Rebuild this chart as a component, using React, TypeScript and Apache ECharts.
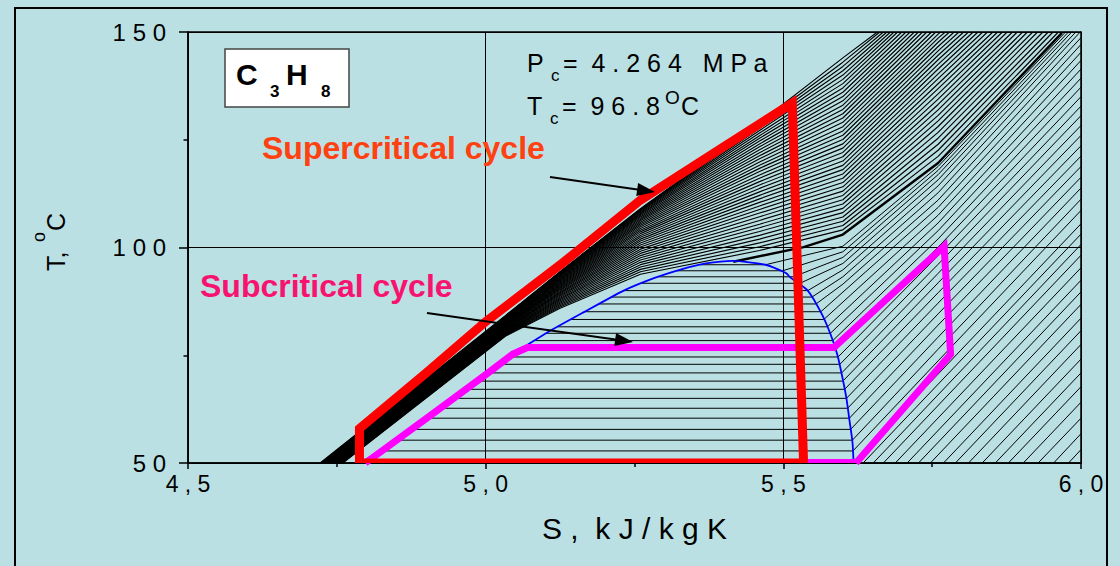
import React, { useEffect, useRef } from "react";
import * as echarts from "echarts";

const FONT = "'Liberation Sans', Arial, Helvetica, sans-serif";

// ---- axes ----
const xMin = 4.5;
const xMax = 6.0;
const xStep = 0.5;
const yMin = 50;
const yMax = 150;
const yStep = 50;

// ---- saturation dome (S, T) ----
const domeS = [4.790, 4.845, 4.898, 4.950, 4.996, 5.044, 5.100, 5.165, 5.232, 5.285, 5.330, 5.370, 5.415,
  5.470, 5.490, 5.505, 5.512, 5.541, 5.563, 5.579, 5.591, 5.599, 5.606, 5.611, 5.616, 5.618];
const domeT = [50, 55, 60, 65, 70, 75, 80, 85, 90, 93, 95, 96.3, 96.9,
  96.0, 95.0, 94.0, 93.0, 90, 85, 80, 75, 70, 65, 60, 55, 50];

// ---- subcritical isobars: saturation temperature, liquid/vapour entropy, vapour branch ----
const subT = [52.8, 55.3, 57.8, 60.4, 62.7, 65.0, 67.1, 69.0, 70.9, 72.9, 74.6, 76.6, 78.4, 80.1, 81.6, 83.3, 85.1, 86.9, 88.5, 90.0, 91.7, 93.2, 94.6, 96.0];
const subSL = [4.821, 4.848, 4.875, 4.902, 4.926, 4.950, 4.969, 4.987, 5.005, 5.024, 5.040, 5.062, 5.082, 5.101, 5.121, 5.143, 5.166, 5.190, 5.212, 5.232, 5.262, 5.290, 5.321, 5.361];
const subSV = [5.617, 5.616, 5.613, 5.611, 5.608, 5.606, 5.603, 5.600, 5.598, 5.595, 5.592, 5.587, 5.583, 5.579, 5.574, 5.568, 5.563, 5.555, 5.548, 5.541, 5.528, 5.517, 5.499, 5.470];
const subColS = [5.60, 5.76, 6.0];
const subTa: (number | null)[] = [null, null, null, null, null, null, null, null, null, null, null, null, null, null, null, null, null, 91.5, 93.2, 94.8, 96.3, 97.7, 99.0, 100.3];
const subTb = [73.7, 76.4, 79.2, 82.0, 84.6, 87.1, 89.5, 91.8, 94.0, 96.1, 98.1, 100.1, 102.0, 103.9, 105.7, 107.5, 109.3, 111.0, 112.7, 114.3, 115.7, 116.9, 117.9, 118.8];
const subT6 = [108.6, 111.2, 113.8, 116.3, 118.8, 121.2, 123.6, 126.0, 128.3, 130.6, 132.8, 135.0, 137.2, 139.3, 141.4, 143.4, 145.3, 147.1, 148.7, 150.2, 151.3, 152.3, 153.1, 153.8];

// ---- low-pressure vapour isobars (start on the 50 °C line, end on S = 6.0) ----
const lowS0 = [5.618, 5.634, 5.651, 5.668, 5.688, 5.708, 5.727, 5.747, 5.769, 5.789, 5.811, 5.834, 5.856, 5.878, 5.903, 5.928, 5.954, 5.979];
const lowT6 = [105.5, 103.1, 100.7, 98.2, 95.3, 92.4, 89.7, 86.8, 83.6, 80.7, 77.5, 74.1, 70.9, 67.7, 64.1, 60.4, 56.8, 53.1];

// ---- supercritical isobars (start at T = 50, sampled at fixed S columns, end on T = 150) ----
const scColS = [5.033, 5.125, 5.26, 5.46, 5.60, 5.76];
const scS0 = [4.722, 4.723, 4.724, 4.725, 4.726, 4.727, 4.728, 4.729, 4.730, 4.731, 4.732, 4.732, 4.733, 4.734, 4.735, 4.736, 4.737, 4.738, 4.739, 4.740, 4.741, 4.742, 4.743, 4.744, 4.745, 4.746, 4.747, 4.748, 4.749, 4.750, 4.751, 4.751, 4.752, 4.753, 4.754, 4.755, 4.756, 4.757, 4.758, 4.759, 4.760];
const scT1 = [84.20, 84.08, 83.96, 83.84, 83.72, 83.60, 83.48, 83.36, 83.24, 83.12, 83.00, 82.88, 82.76, 82.64, 82.52, 82.40, 82.28, 82.16, 82.04, 81.92, 81.80, 81.68, 81.56, 81.44, 81.32, 81.20, 81.08, 80.96, 80.84, 80.72, 80.60, 80.48, 80.36, 80.24, 80.12, 80.00, 79.88, 79.76, 79.64, 79.52, 79.40];
const scT2 = [94.40, 94.35, 94.27, 94.17, 94.06, 93.94, 93.80, 93.66, 93.51, 93.35, 93.18, 93.01, 92.83, 92.64, 92.45, 92.25, 92.04, 91.84, 91.62, 91.40, 91.18, 90.95, 90.72, 90.48, 90.24, 90.00, 89.75, 89.50, 89.25, 88.99, 88.72, 88.45, 88.18, 87.91, 87.63, 87.36, 87.06, 86.78, 86.49, 86.19, 85.90];
const scT3 = [109.00, 108.94, 108.83, 108.69, 108.52, 108.33, 108.12, 107.89, 107.64, 107.38, 107.10, 106.81, 106.50, 106.18, 105.85, 105.51, 105.15, 104.79, 104.41, 104.02, 103.63, 103.22, 102.80, 102.37, 101.94, 101.49, 101.04, 100.57, 100.10, 99.62, 99.13, 98.63, 98.12, 97.61, 97.09, 96.56, 96.02, 95.48, 94.93, 94.37, 93.80];
const scT5 = [129.00, 128.65, 128.18, 127.67, 127.13, 126.55, 125.95, 125.34, 124.69, 124.04, 123.37, 122.69, 122.00, 121.29, 120.57, 119.85, 119.10, 118.36, 117.62, 116.84, 116.08, 115.29, 114.51, 113.71, 112.91, 112.10, 111.29, 110.47, 109.64, 108.81, 107.99, 107.13, 106.28, 105.40, 104.59, 103.72, 102.82, 101.95, 101.06, 100.18, 99.30];
const scT6 = [144.00, 143.00, 142.01, 141.01, 140.01, 139.01, 138.02, 137.02, 136.02, 135.02, 134.03, 133.03, 132.03, 131.03, 130.04, 129.04, 128.04, 127.04, 126.05, 125.05, 124.05, 123.05, 122.06, 121.06, 120.06, 119.06, 118.07, 117.07, 116.07, 115.07, 114.08, 113.08, 112.08, 111.08, 110.09, 109.09, 108.09, 107.09, 106.10, 105.10, 104.10];
const scT7: (number | null)[] = [null, null, null, null, null, null, null, null, null, null, null, null, null, null, null, null,
  149.50, 148.58, 147.63, 146.63, 145.63, 144.61, 143.57, 142.49, 141.42, 140.30, 139.18, 138.00, 136.85, 135.65, 134.44, 133.19, 131.92, 130.66, 129.38, 128.07, 126.71, 125.36, 123.96, 122.56, 121.15];
const scTopS = [5.658, 5.662, 5.668, 5.674, 5.680, 5.686, 5.692, 5.699, 5.706, 5.713, 5.720, 5.727, 5.734, 5.741, 5.749, 5.756, 5.764, 5.772, 5.779, 5.787, 5.795, 5.803, 5.811, 5.819, 5.827, 5.835, 5.843, 5.852, 5.860, 5.868, 5.876, 5.885, 5.893, 5.902, 5.910, 5.919, 5.927, 5.936, 5.945, 5.953, 5.962];

// ---- critical isobar (bold) ----
const critS = [5.416, 5.534, 5.60, 5.76, 5.968];
const critT = [96.7, 100.1, 103.0, 119.6, 149.8];

// ---- cycles ----
const redS = [4.788, 4.788, 4.90, 5.00, 5.13, 5.26, 5.39, 5.515, 5.534];
const redT = [50, 58.0, 70.9, 82.8, 96.5, 111.0, 122.5, 133.5, 50];
const redBaseS = [4.788, 5.534];
const pinkS = [4.798, 4.912, 5.003, 5.045, 5.07, 5.585, 5.770, 5.781, 5.622];
const pinkT = [50, 61.5, 70.8, 75.2, 76.8, 76.8, 100.3, 75.2, 50];
const pinkBaseS = [4.798, 5.622];

const zip = (s: number[], t: number[]) => s.map((v, i) => [v, t[i]]);

function lineS(data: number[][], color: string, width: number, z: number, smooth: number | boolean = false, join = "bevel") {
  return {
    type: "line",
    data,
    symbol: "none",
    showSymbol: false,
    silent: true,
    smooth,
    clip: true,
    z,
    lineStyle: { color, width, join, cap: "butt" },
    emphasis: { disabled: true },
  };
}

function buildSeries() {
  const series: any[] = [];
  const hatch = "#000";
  lowS0.forEach((s, i) => series.push(lineS([[s, 50], [subColS[2], lowT6[i]]], hatch, 1, 2)));
  subT.forEach((t, j) => {
    series.push(lineS([[subSL[j], t], [subSV[j], t]], hatch, 1, 2));
    const pts: number[][] = [[subSV[j], t]];
    const ta = subTa[j];
    if (ta !== null) pts.push([subColS[0], ta]);
    pts.push([subColS[1], subTb[j]], [subColS[2], subT6[j]]);
    series.push(lineS(pts, hatch, 1, 2));
  });
  scS0.forEach((s0, i) => {
    const pts: number[][] = [
      [s0, 50],
      [scColS[0], scT1[i]],
      [scColS[1], scT2[i]],
      [scColS[2], scT3[i]],
      [scColS[3], scT5[i]],
      [scColS[4], scT6[i]],
    ];
    const t7 = scT7[i];
    if (t7 !== null) pts.push([scColS[5], t7]);
    pts.push([scTopS[i], 150]);
    series.push(lineS(pts, hatch, 1.15, 2));
  });
  series.push(lineS(zip(critS, critT), "#000", 2.4, 3));
  series.push(lineS(zip(domeS, domeT), "#0000ff", 1.8, 3, 0.2));
  series.push(lineS(zip(pinkS, pinkT), "#ff00ff", 7, 4, false, "miter"));
  series.push(lineS([[pinkBaseS[0], 50.45], [pinkBaseS[1], 50.45]], "#ff00ff", 4, 4));
  series.push(lineS(zip(redS, redT), "#ff0000", 9, 5, false, "miter"));
  series.push(lineS([[redBaseS[0], 50.5], [redBaseS[1], 50.5]], "#ff0000", 4.5, 5));
  return series;
}

function txt(text: string, x: number, y: number, size: number, opts: any = {}) {
  return {
    type: "text",
    x,
    y,
    z: 10,
    silent: true,
    style: {
      text,
      fill: opts.fill || "#000",
      fontSize: size,
      fontWeight: opts.weight || "normal",
      fontFamily: FONT,
      align: opts.align || "left",
      verticalAlign: "middle",
    },
  };
}

function arrow(x1: number, y1: number, x2: number, y2: number) {
  const dx = x2 - x1;
  const dy = y2 - y1;
  const len = Math.sqrt(dx * dx + dy * dy);
  const ux = dx / len;
  const uy = dy / len;
  const hl = 18;
  const hw = 6.5;
  const bx = x2 - ux * hl;
  const by = y2 - uy * hl;
  return [
    { type: "line", z: 10, silent: true, shape: { x1, y1, x2: bx + ux * 2, y2: by + uy * 2 }, style: { stroke: "#000", lineWidth: 2 } },
    {
      type: "polygon",
      z: 10,
      silent: true,
      shape: { points: [[x2, y2], [bx - uy * hw, by + ux * hw], [bx + uy * hw, by - ux * hw]] },
      style: { fill: "#000" },
    },
  ];
}

function buildOption() {
  const spaced = (s: string) => s.split("").join(" ");
  return {
    animation: false,
    backgroundColor: "transparent",
    textStyle: { fontFamily: FONT },
    grid: { left: 188, right: 39, top: 32, bottom: 103, show: true, borderColor: "#000", borderWidth: 1.5, backgroundColor: "transparent" },
    xAxis: {
      type: "value",
      min: xMin,
      max: xMax,
      interval: xStep,
      name: "S ,  k J / k g K",
      nameLocation: "middle",
      nameGap: 50,
      nameTextStyle: { fontSize: 30, color: "#000", fontFamily: FONT },
      axisLine: { show: true, lineStyle: { color: "#000", width: 1.5 } },
      axisTick: { show: true, length: 6, lineStyle: { color: "#000", width: 1.5 } },
      minorTick: { show: true, splitNumber: 2, length: 4, lineStyle: { color: "#000", width: 1.5 } },
      splitLine: { show: true, lineStyle: { color: "#000", width: 1 } },
      axisLabel: { fontSize: 23, color: "#000", margin: 9, fontFamily: FONT, formatter: (v: number) => spaced(v.toFixed(1).replace(".", ",")) },
    },
    yAxis: {
      type: "value",
      min: yMin,
      max: yMax,
      interval: yStep,
      axisLine: { show: true, lineStyle: { color: "#000", width: 1.5 } },
      axisTick: { show: true, length: 9, lineStyle: { color: "#000", width: 1.5 } },
      minorTick: { show: true, splitNumber: 2, length: 4.5, lineStyle: { color: "#000", width: 1.5 } },
      splitLine: { show: true, lineStyle: { color: "#000", width: 1 } },
      axisLabel: { fontSize: 24, color: "#000", margin: 22, fontFamily: FONT, formatter: (v: number) => spaced(String(v)) },
    },
    graphic: [
      { type: "rect", z: 0, silent: true, shape: { x: 15, y: 8, width: 1092, height: 620 }, style: { fill: "none", stroke: "#000", lineWidth: 2 } },
      { type: "rect", z: 9, silent: true, shape: { x: 225, y: 49, width: 124, height: 58 }, style: { fill: "#ffffff", stroke: "#444", lineWidth: 1.5 } },
      txt("C", 236, 74, 30, { weight: "bold" }),
      txt("3", 270, 91.5, 17, { weight: "bold" }),
      txt("H", 286, 74, 30, { weight: "bold" }),
      txt("8", 321, 91.5, 17, { weight: "bold" }),
      txt("P", 527, 63, 25),
      txt("c", 551, 75, 17),
      txt("=  4 . 2 6 4   M P a", 563, 63, 25),
      txt("T", 527, 105.5, 25),
      txt("c", 550, 118, 17),
      txt("=  9 6 . 8", 562, 105.5, 25),
      txt("O", 665, 97.5, 19),
      txt("C", 681, 105.5, 25),
      txt("Supercritical cycle", 262, 148, 32, { weight: "bold", fill: "#ff4010" }),
      txt("Subcritical cycle", 200, 286, 32, { weight: "bold", fill: "#f7136f" }),
      ...arrow(550, 177, 655, 192),
      ...arrow(427, 313, 633, 342),
      {
        type: "group",
        x: 56,
        y: 271,
        rotation: Math.PI / 2,
        children: [
          txt("T,", 0, 0, 25),
          txt("o", 29, -17.5, 18),
          txt("C", 40, 0, 25),
        ],
      },
    ],
    series: buildSeries(),
  };
}

export default function App() {
  const ref = useRef<HTMLDivElement>(null);
  useEffect(() => {
    if (!ref.current) return;
    const chart = echarts.init(ref.current, null, { renderer: "svg" });
    chart.setOption(buildOption() as any);
    return () => chart.dispose();
  }, []);
  return (
    <div
      ref={ref}
      style={{ position: "absolute", left: 0, top: 0, width: 1120, height: 566, background: "#bbe0e3" }}
    />
  );
}
